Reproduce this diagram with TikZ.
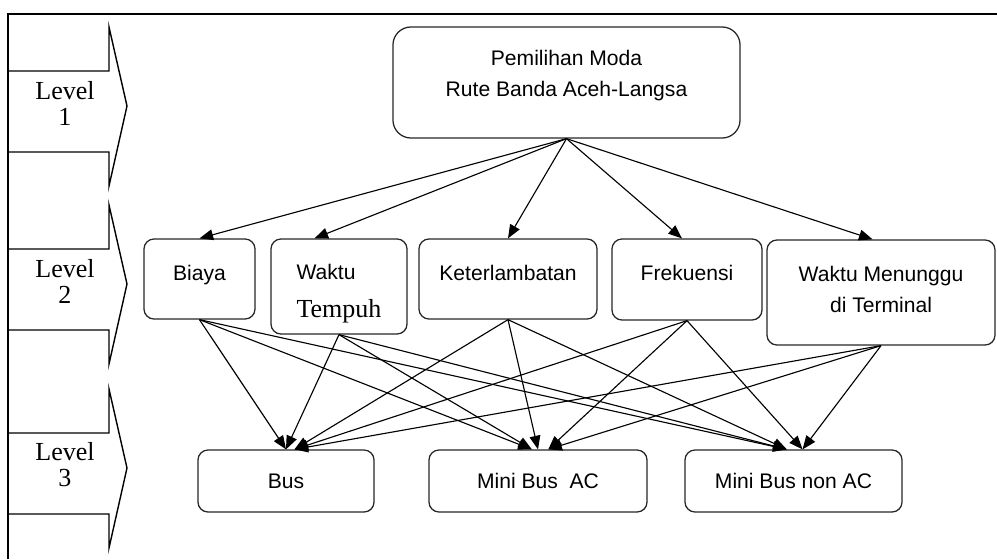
\documentclass[tikz,border=0pt]{standalone}
\usepackage{fontspec}
\setmainfont{Liberation Serif}
\setsansfont{Liberation Sans}
\usepackage{tikz}
\usetikzlibrary{arrows.meta}

\tikzset{
  box/.style={draw=black!85, line width=0.9pt, rounded corners=0.25cm, align=center,
    font=\sffamily\fontsize{15}{22}\selectfont, inner sep=2pt},
  arr/.style={-{Triangle[length=3.4mm,width=2.7mm]}, line width=0.8pt},
  levtxt/.style={align=center, font=\rmfamily\fontsize{18.5}{18.5}\selectfont},
}

\begin{document}
\begin{tikzpicture}[x=0.025cm, y=-0.025cm]
\useasboundingbox (0,0) rectangle (997,559);

% Frame
\draw[line width=1pt] (8,559) -- (8,14) -- (997,14);

% Levels
\foreach \t/\i in {27/1,205/2,389/3} {
    \draw[line width=1pt] (8,\t+44) -- (109,\t+44) -- (109,\t) -- (127,\t+79)
        -- (109,\t+159) -- (109,\t+125) -- (8,\t+125);
    \node[levtxt] (lev\i) at (65,\t+76) {Level\\\i};
}

% Goal
\node[box, rounded corners=0.45cm, minimum width=8.675cm, minimum height=2.775cm]
    (goal) at (566.5,82.5) {Pemilihan Moda\\Rute Banda Aceh-Langsa\\[-0.6em]};

% Criteria
\node[box, minimum width=2.775cm, minimum height=2cm] (biaya) at (199.5,279) {Biaya\\[-0.85em]};
\node[box, minimum width=3.4cm, minimum height=2.375cm, align=left] (tempuh) at (339,286.5)
    {\rule{0pt}{21pt}Waktu\\[0.18cm]{\rmfamily\fontsize{18.5}{21}\selectfont Tempuh}};
\node[box, minimum width=4.45cm, minimum height=2cm] (ket) at (508,279) {Keterlambatan\\[-0.85em]};
\node[box, minimum width=3.75cm, minimum height=2.025cm] (frek) at (687,279.5) {Frekuensi\\[-0.85em]};
\node[box, minimum width=5.7cm, minimum height=2.625cm] (wm) at (881,292.5)
    {Waktu Menunggu\\di Terminal\\[-1.2em]};

% Alternatives
\node[box, minimum width=4.4cm, minimum height=1.55cm] (bus) at (286,481) {Bus};
\node[box, minimum width=5.45cm, minimum height=1.55cm] (ac) at (538,481) {Mini Bus~~AC};
\node[box, minimum width=5.425cm, minimum height=1.55cm] (nonac) at (793.5,481) {Mini Bus non AC};

% Goal to criteria
\draw[arr] (goal.south) -- (biaya.north);
\draw[arr] (goal.south) -- (tempuh.117);
\draw[arr] (goal.south) -- (ket.north);
\draw[arr] (goal.south) -- (frek.97);
\draw[arr] (goal.south) -- (wm.99);

% Criteria to alternatives
\foreach \s/\e in {biaya/bus.north, tempuh/bus.north, ket/bus.75, frek/bus.75, wm/bus.75,
    biaya/ac.101, tempuh/ac.101, ket/ac.north, frek/ac.72, wm/ac.72,
    biaya/nonac.102, tempuh/nonac.102, ket/nonac.102, frek/nonac.74, wm/nonac.74} {
    \draw[arr] (\s.south) -- (\e);
}
\end{tikzpicture}
\end{document}
